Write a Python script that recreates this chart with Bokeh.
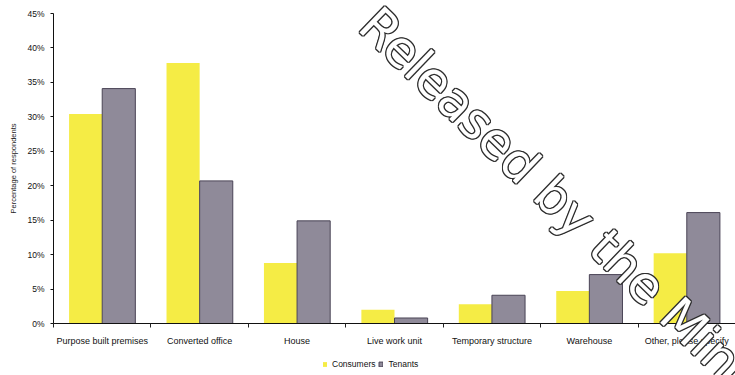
from bokeh.plotting import figure
from bokeh.models import (ColumnDataSource, FixedTicker, PrintfTickFormatter,
                          Range1d, Legend, LegendItem, Label, LinearAxis, Grid)
from bokeh.transform import dodge
from bokeh.embed import file_html
from bokeh.resources import INLINE
import math

# Premises types and share of respondents (%)
categories = ["Purpose built premises", "Converted office", "House",
              "Live work unit", "Temporary structure", "Warehouse",
              "Other, please specify"]
consumers = [30.4, 37.8, 8.8, 2.0, 2.8, 4.7, 10.2]
tenants = [34.1, 20.7, 14.9, 0.8, 4.1, 7.1, 16.1]
y_ticks = [0, 5, 10, 15, 20, 25, 30, 35, 40, 45]

YELLOW = "#F5EC45"
GREY = "#8F8A99"
FONT = "Liberation Sans"

W, H = 735, 375
# plot area in canvas pixels (axes are pinned inside a full-canvas frame)
LEFT, TOP, BOTTOM, RIGHT = 53, 13, 323, 735
n = len(categories)
px_x = (RIGHT - LEFT) / n
px_y = (BOTTOM - TOP) / 45.0

positions = [i + 1 for i in range(n)]
boundaries = [i + 0.5 for i in range(n + 1)]

source = ColumnDataSource(dict(x=positions, consumers=consumers,
                               tenants=tenants))

p = figure(width=W, height=H, output_backend="svg", toolbar_location=None,
           x_range=Range1d(0.5 - LEFT / px_x, 0.5 + (W - LEFT) / px_x),
           y_range=Range1d(-(H - BOTTOM) / px_y, 45 + TOP / px_y),
           x_axis_location=None, y_axis_location=None,
           min_border=0)
p.outline_line_color = None
p.background_fill_color = "white"
p.border_fill_color = "white"
for g in p.select(type=Grid):
    g.visible = False

r_cons = p.vbar(x=dodge("x", -0.17, range=p.x_range), top="consumers",
                width=0.34, source=source, fill_color=YELLOW,
                line_color=None)
r_ten = p.vbar(x=dodge("x", 0.17, range=p.x_range), top="tenants",
               width=0.34, source=source, fill_color=GREY,
               line_color="#4A4456", line_width=1)

# x axis: names at the group centres, small ticks on the group boundaries
xa = LinearAxis(fixed_location=0, bounds=(0.5, n + 0.5))
xa.ticker = FixedTicker(ticks=positions, minor_ticks=boundaries)
xa.major_label_overrides = {pos: name for pos, name in zip(positions, categories)}
xa.major_tick_line_color = None
xa.major_tick_out = 0
xa.major_tick_in = 0
xa.minor_tick_out = 4
xa.minor_tick_in = 0
xa.minor_tick_line_color = "#222222"
xa.axis_line_color = "#111111"
xa.major_label_text_font = FONT
xa.major_label_text_font_size = "9px"
xa.major_label_text_color = "#111111"
xa.major_label_standoff = 8
p.add_layout(xa, "below")

# y axis in percent
ya = LinearAxis(fixed_location=0.5, bounds=(0, 45))
ya.ticker = FixedTicker(ticks=y_ticks)
ya.formatter = PrintfTickFormatter(format="%d%%")
ya.major_tick_out = 3
ya.major_tick_in = 0
ya.minor_tick_line_color = None
ya.axis_line_color = "#111111"
ya.major_tick_line_color = "#111111"
ya.major_label_text_font = FONT
ya.major_label_text_font_size = "8.5px"
ya.major_label_text_color = "#111111"
ya.major_label_standoff = 6
ya.axis_label = "Percentage of respondents"
ya.axis_label_text_font = FONT
ya.axis_label_text_font_size = "7.5px"
ya.axis_label_text_font_style = "normal"
ya.axis_label_text_color = "#222222"
ya.axis_label_standoff = 6
p.add_layout(ya, "left")

legend = Legend(items=[LegendItem(label="Consumers", renderers=[r_cons]),
                       LegendItem(label="Tenants", renderers=[r_ten])],
                orientation="horizontal", location=(322, 6),
                glyph_width=5, glyph_height=6, label_height=8,
                label_standoff=5, spacing=3, padding=0, margin=0,
                label_text_font=FONT, label_text_font_size="8.5px",
                label_text_color="#111111",
                border_line_color=None, background_fill_alpha=0)
p.add_layout(legend)

# Diagonal outlined stamp across the chart
stamp = "Released by the Minister"
angle = -math.radians(44)
stamp_x, stamp_y = 3.52, 41.5
offsets = [(-1, 0), (1, 0), (0, -1), (0, 1), (-1, -1), (1, 1), (-1, 1), (1, -1)]
for dx, dy in offsets:
    p.add_layout(Label(x=stamp_x, y=stamp_y, x_offset=dx, y_offset=dy,
                       text=stamp, angle=angle, text_font="DejaVu Sans",
                       text_font_size="50px", text_color="#2e2e2e"))
p.add_layout(Label(x=stamp_x, y=stamp_y, text=stamp, angle=angle,
                   text_font="DejaVu Sans", text_font_size="50px",
                   text_color="white"))

open("out.html", "w").write(file_html(p, INLINE))
